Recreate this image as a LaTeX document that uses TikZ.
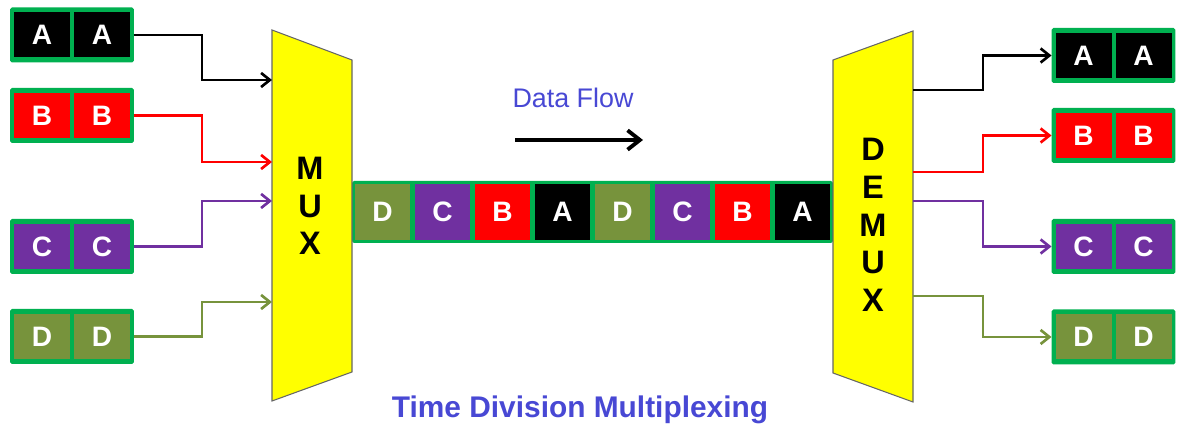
\documentclass[tikz,border=0pt]{standalone}
\usepackage{fontspec}
\setmainfont{Liberation Sans}
\usetikzlibrary{arrows.meta}
\definecolor{colA}{HTML}{000000}
\definecolor{colB}{HTML}{FF0000}
\definecolor{colC}{HTML}{7030A0}
\definecolor{colD}{HTML}{77933C}
\definecolor{frameGreen}{HTML}{00B050}
\definecolor{titleBlue}{HTML}{4848D4}
\definecolor{muxYellow}{HTML}{FFFF00}
\tikzset{
    cell/.style={inner sep=0, outer sep=0, text=white, font=\fontsize{16}{16}\selectfont\bfseries},
    frame/.style={fill=frameGreen, inner sep=0, outer sep=0, rounded corners=1pt},
    link/.style={line width=1.5pt, -{Straight Barb[length=5pt,width=8pt]}},
    muxbody/.style={fill=muxYellow, draw=black!60, line width=0.6pt},
    muxtext/.style={font=\fontsize{18.5}{21.5}\selectfont\bfseries, align=center},
    % two slots of one source, framed in green
    pairbox/.pic={
        \node[frame, minimum width=2.48cm, minimum height=1.1cm] (-f) {};
        \node[cell, fill=col#1, minimum width=1.12cm, minimum height=0.9cm] (-l) at (-30,0) {#1};
        \node[cell, fill=col#1, minimum width=1.12cm, minimum height=0.9cm] (-r) at (30,0) {#1};
    }
}
\begin{document}
\begin{tikzpicture}[x=0.02cm, y=-0.02cm]
    \useasboundingbox (0,0) rectangle (1178,428);
    % sources and receivers
    \foreach \s/\y in {A/35,B/115.5,C/246.5,D/336.5}
        \pic (in\s) at (72,\y) {pairbox=\s};
    \foreach \s/\y in {A/55.5,B/135.5,C/246.5,D/337}
        \pic (out\s) at (1113.5,\y) {pairbox=\s};
    % shared line with the interleaved slots
    \node[frame, minimum width=9.62cm, minimum height=1.24cm] (stream) at (592.5,212) {};
    \foreach \s [count=\i] in {D,C,B,A,D,C,B,A}
        \node[cell, fill=col\s, minimum size=1.12cm] (slot\i) at (322.5+60*\i,212) {\s};
    % MUX and DEMUX
    \draw[muxbody] (272,30) -- (352,60) -- (352,372) -- (272,401) -- cycle;
    \node[muxtext] (muxlabel) at (310,206) {M\\U\\X};
    \draw[muxbody] (913,31) -- (833,60) -- (833,373) -- (913,402) -- cycle;
    \node[muxtext] (demuxlabel) at (873,225) {D\\E\\M\\U\\X};
    % inputs
    \foreach \s/\y in {A/80,B/162,C/201,D/302}{
        \coordinate (mux\s) at (272,\y);
        \draw[link, col\s] (in\s-f.east) -- ++(68,0) |- (mux\s);
    }
    % outputs
    \foreach \s/\y in {A/90,B/172,C/201,D/296}{
        \coordinate (demux\s) at (913,\y);
        \draw[link, col\s] (demux\s) -- ++(70,0) |- (out\s-f.west);
    }
    % direction of flow
    \node[font=\fontsize{15.3}{16}\selectfont, text=titleBlue] (flowlabel) at (573,98) {Data Flow};
    \coordinate (flowstart) at (515,140);
    \coordinate (flowend) at (643,140);
    \draw[line width=2.2pt, -{Straight Barb[length=7pt,width=11pt]}] (flowstart) -- (flowend);
    \node[font=\fontsize{17}{17}\selectfont\bfseries, text=titleBlue] (title) at (580,410) {Time Division Multiplexing};
\end{tikzpicture}
\end{document}
